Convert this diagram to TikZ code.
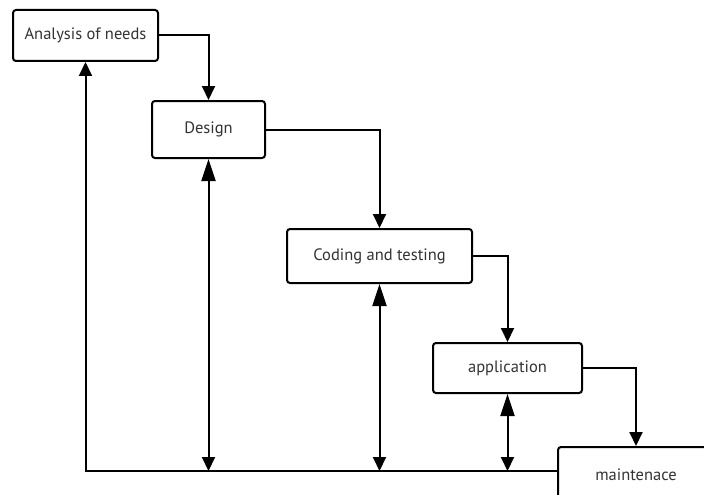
\documentclass[tikz,border=0pt]{standalone}
\usepackage{fontspec}
\setmainfont{PT Sans}
\usetikzlibrary{arrows.meta}
\begin{document}
\begin{tikzpicture}[x=1pt,y=-1pt,
  box/.style={draw=black, line width=2pt, rounded corners=3pt, fill=white, inner sep=0pt, font=\fontsize{16.5}{18}\selectfont, text=black!80},
  conn/.style={line width=2pt, -{Triangle[length=14pt,width=13pt]}},
  dbl/.style={line width=2pt, {Triangle[length=22pt,width=14pt]}-{Triangle[length=14pt,width=13pt]}}]
\useasboundingbox (0,0) rectangle (704,495);
\clip (0,0) rectangle (704,495);
\fill[white] (0,0) rectangle (704,495);
\node[box, minimum width=145pt, minimum height=51pt] (an) at (85.5,35.5) {Analysis of needs};
\node[box, minimum width=113pt, minimum height=57pt] (de) at (208.5,129.5) {Design};
\node[box, minimum width=185pt, minimum height=54pt] (co) at (379.5,256) {Coding and testing};
\node[box, minimum width=149pt, minimum height=50pt] (ap) at (507.5,368) {application};
\node[box, minimum width=156pt, minimum height=62pt] (ma) at (636,478) {\raisebox{6pt}{maintenace}};
\coordinate (jn) at (558,471);
\draw[conn] (an.east) -| (de.north);
\draw[conn] (de.east) -| (co.north);
\draw[conn] (co.east) -| (ap.north);
\draw[conn] (ap.east) -| (ma.north);
\draw[conn] (jn) -| (an.south);
\draw[dbl] (de.south) -- (de.south |- jn);
\draw[dbl] (co.south) -- (co.south |- jn);
\draw[dbl] (ap.south) -- (ap.south |- jn);
\end{tikzpicture}
\end{document}
